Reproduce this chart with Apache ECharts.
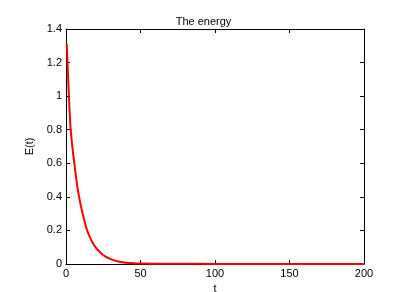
<!DOCTYPE html>
<html><head><meta charset="utf-8">
<script src="https://cdn.jsdelivr.net/npm/echarts@6/dist/echarts.min.js"></script>
<style>html,body{margin:0;padding:0;background:#fff}#c{width:407px;height:292px}</style>
</head><body><div id="c"></div>
<script>
const tValues = [0.5,1,2,3,4,5,6,7,8,9,10,12,14,16,18,20,23,26,30,35,40,45,50,60,80,100,150,200];
const energyValues = [1.31,1.2,0.99,0.82,0.72,0.64,0.57,0.5,0.44,0.39,0.345,0.27,0.205,0.16,0.125,0.097,0.068,0.047,0.029,0.015,0.008,0.005,0.003,0.002,0.001,0.0007,0.0003,0.0002];
const xTicks = [0,50,100,150,200];
const yTicks = [0,0.2,0.4,0.6,0.8,1,1.2,1.4];
const titleText = 'The energy';
const xName = 't';
const yName = 'E(t)';

const font = 'Liberation Sans, Arial, Helvetica, sans-serif';
const chart = echarts.init(document.getElementById('c'), null, {renderer:'canvas'});
const lineStyle = {color:'#000', width:1};
chart.setOption({
  animation:false,
  title:{text:titleText,left:'center',top:11,textStyle:{fontFamily:font,fontSize:11,fontWeight:'normal',color:'#000'}},
  grid:{left:66,right:43,top:29,bottom:28,containLabel:false,outerBoundsMode:'none'},
  xAxis:[{type:'value',min:xTicks[0],max:xTicks[xTicks.length-1],interval:50,
    name:xName,nameLocation:'middle',nameGap:19,nameTextStyle:{fontFamily:font,fontSize:11,color:'#000'},
    axisLine:{onZero:false,lineStyle},axisTick:{inside:true,length:4,lineStyle},
    axisLabel:{fontFamily:font,fontSize:11,color:'#000',margin:4},splitLine:{show:false}},
    {type:'value',position:'top',min:0,max:200,interval:50,axisLine:{onZero:false,lineStyle},axisTick:{inside:true,length:4,lineStyle},axisLabel:{show:false},splitLine:{show:false}}],
  yAxis:[{type:'value',min:yTicks[0],max:yTicks[yTicks.length-1],interval:0.2,
    name:yName,nameLocation:'middle',nameGap:25,nameTextStyle:{fontFamily:font,fontSize:11,color:'#000'},
    axisLine:{show:true,onZero:false,lineStyle},axisTick:{show:true,inside:true,length:4,lineStyle},
    axisLabel:{fontFamily:font,fontSize:11,color:'#000',margin:4},splitLine:{show:false}},
    {type:'value',position:'right',min:0,max:1.4,interval:0.2,axisLine:{show:true,onZero:false,lineStyle},axisTick:{show:true,inside:true,length:4,lineStyle},axisLabel:{show:false},splitLine:{show:false}}],
  series:[{type:'line',data:tValues.map((t,i)=>[t,energyValues[i]]),showSymbol:false,smooth:0.3,
    lineStyle:{color:'#ff0000',width:2},itemStyle:{color:'#ff0000'}}]
});
</script></body></html>
